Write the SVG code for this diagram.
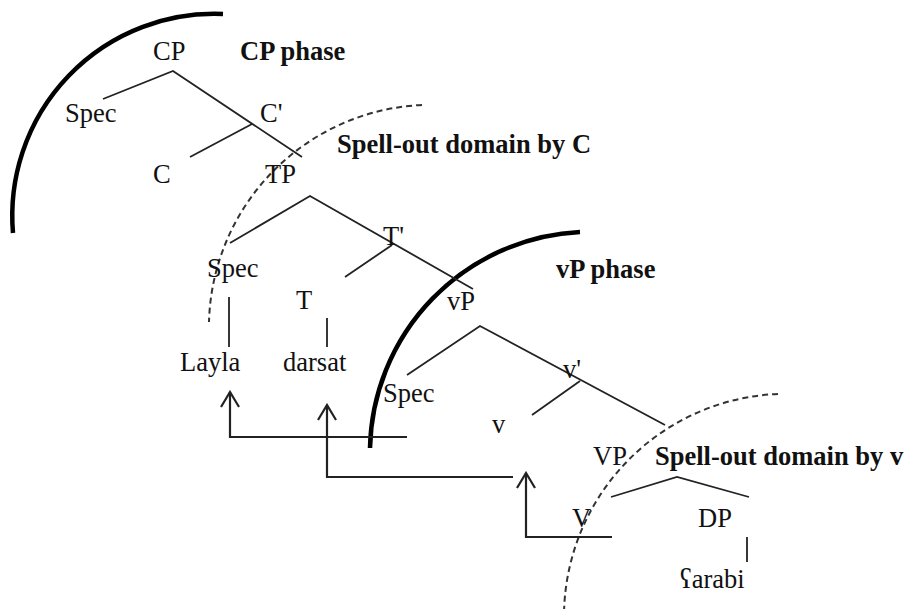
<svg xmlns="http://www.w3.org/2000/svg" width="909" height="609" viewBox="0 0 909 609">
<defs>
<style>
text{font-family:"Liberation Serif","Times New Roman",serif;font-size:26.5px;fill:#111}
text.b{font-weight:bold}
.ln{stroke:#222;stroke-width:1.8;fill:none;stroke-linecap:butt}
.mv{stroke:#222;stroke-width:2.2;fill:none}
.phase{stroke:#000;stroke-width:4.5;fill:none;stroke-linecap:butt}
.dom{stroke:#333;stroke-width:2;fill:none;stroke-dasharray:6 4}
</style>
<marker id="ah" markerUnits="userSpaceOnUse" viewBox="-16 -10 18 20" refX="0" refY="0" markerWidth="18" markerHeight="20" orient="auto">
<path d="M-15,-9 L0,0 L-15,9" fill="none" stroke="#222" stroke-width="2.2"/>
</marker>
</defs>
<rect width="909" height="609" fill="#fff"/>

<g id="boundaries">
<path id="cp-phase-arc" class="phase" d="M223,14 A202,202 0 0 0 13,233"/>
<path id="c-domain-arc" class="dom" d="M422,105 A223,223 0 0 0 209,322"/>
<path id="vp-phase-arc" class="phase" d="M580,232 A221,221 0 0 0 370,448"/>
<path id="v-domain-arc" class="dom" d="M778,394 A223,223 0 0 0 564,617"/>
</g>

<g id="connectors">
<path class="ln" d="M103,99 L173,71 L302,157"/>
<path class="ln" d="M252,124 L190,157"/>
<path class="ln" d="M230,243 L310,196 L473,289"/>
<path class="ln" d="M392,245 L345,277"/>
<path class="ln" d="M229,297 V347"/>
<path class="ln" d="M327,318 V347"/>
<path class="ln" d="M407,375 L480,326 L665,425"/>
<path class="ln" d="M580,381 L532,415"/>
<path class="ln" d="M611,497 L677,477 L749,497"/>
<path class="ln" d="M747,537 V562"/>
<path class="mv" d="M407,437 H230 V392" marker-end="url(#ah)"/>
<path class="mv" d="M513,477 H327 V405" marker-end="url(#ah)"/>
<path class="mv" d="M612,537 H526 V473" marker-end="url(#ah)"/>
</g>

<g id="label-cp-phase"><text class="b" x="240" y="60">CP phase</text></g>
<g id="label-c-domain"><text class="b" x="337" y="153">Spell-out domain by C</text></g>
<g id="label-vp-phase"><text class="b" x="556" y="278">vP phase</text></g>
<g id="label-v-domain"><text class="b" x="655" y="465">Spell-out domain by v</text></g>

<g id="node-CP"><text x="153" y="60">CP</text></g>
<g id="node-SpecCP"><text x="65" y="122">Spec</text></g>
<g id="node-Cbar"><text x="260" y="122">C'</text></g>
<g id="node-C"><text x="153" y="183">C</text></g>
<g id="node-TP"><text x="265" y="183">TP</text></g>
<g id="node-SpecTP"><text x="207" y="277">Spec</text></g>
<g id="node-Tbar"><text x="383" y="245">T'</text></g>
<g id="node-T"><text x="296" y="309">T</text></g>
<g id="node-Layla"><text x="180" y="371">Layla</text></g>
<g id="node-darsat"><text x="283" y="371">darsat</text></g>
<g id="node-vP"><text x="447" y="310">vP</text></g>
<g id="node-SpecvP"><text x="383" y="402">Spec</text></g>
<g id="node-vbar"><text x="563" y="378">v'</text></g>
<g id="node-v"><text x="492" y="433">v</text></g>
<g id="node-VP"><text x="593" y="465">VP</text></g>
<g id="node-V"><text x="572" y="527">V</text></g>
<g id="node-DP"><text x="698" y="527">DP</text></g>
<g id="node-arabi"><text x="680" y="588">ʕarabi</text></g>
</svg>
